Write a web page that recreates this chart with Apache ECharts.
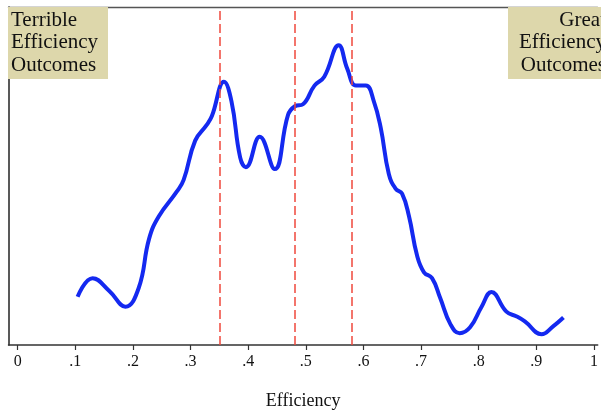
<!DOCTYPE html>
<html>
<head>
<meta charset="utf-8">
<script src="https://cdn.jsdelivr.net/npm/echarts@6/dist/echarts.min.js"></script>
<style>
  html, body { margin: 0; padding: 0; background: #fff; }
  #chart { width: 601px; height: 415px; }
</style>
</head>
<body>
<div id="chart"></div>
<script>
// kernel density of efficiency
const efficiency = [0.104, 0.130, 0.159, 0.187, 0.210, 0.228, 0.245, 0.276, 0.288, 0.308,
  0.328, 0.337, 0.358, 0.371, 0.386, 0.396, 0.420, 0.446, 0.469, 0.481,
  0.495, 0.515, 0.532, 0.557, 0.572, 0.587, 0.604, 0.618, 0.630, 0.644,
  0.656, 0.667, 0.679, 0.693, 0.705, 0.719, 0.733, 0.751, 0.767, 0.785,
  0.805, 0.822, 0.848, 0.866, 0.880, 0.909, 0.929, 0.947];
const density = [0.49, 0.68, 0.55, 0.39, 0.58, 1.08, 1.31, 1.56, 1.68, 2.08,
  2.24, 2.33, 2.68, 2.48, 1.91, 1.81, 2.12, 1.79, 2.34, 2.43,
  2.45, 2.64, 2.73, 3.05, 2.81, 2.64, 2.64, 2.48, 2.21, 1.74,
  1.59, 1.54, 1.31, 0.91, 0.74, 0.68, 0.48, 0.21, 0.12, 0.18,
  0.39, 0.54, 0.34, 0.29, 0.24, 0.11, 0.19, 0.28];
// dashed reference lines
const refLines = [0.352, 0.478, 0.583];
const xTicks = [0, 0.1, 0.2, 0.3, 0.4, 0.5, 0.6, 0.7, 0.8, 0.9, 1];
const xTickLabels = ['0', '.1', '.2', '.3', '.4', '.5', '.6', '.7', '.8', '.9', '1'];
const leftNote = 'Terrible\nEfficiency\nOutcomes';
const rightNote = 'Great\nEfficiency\nOutcomes';

const serif = '"Liberation Serif", "DejaVu Serif", serif';
const chart = echarts.init(document.getElementById('chart'));

chart.setOption({
  animation: false,
  grid: { left: 8.5, right: 0, top: 7, bottom: 64 },
  xAxis: [{
    type: 'value',
    min: -0.0159,
    max: 1.0064,
    name: 'Efficiency',
    nameLocation: 'middle',
    nameGap: 47,
    nameTextStyle: { fontFamily: serif, fontSize: 18, color: '#111' },
    splitLine: { show: false },
    axisLine: { onZero: false, lineStyle: { color: '#333', width: 1.5 } },
    axisTick: { customValues: xTicks, length: 5, lineStyle: { color: '#333', width: 1.2 } },
    axisLabel: {
      customValues: xTicks,
      margin: 9,
      fontFamily: serif,
      fontSize: 16,
      color: '#111',
      formatter: v => xTickLabels[xTicks.indexOf(v)]
    }
  }, {
    // top frame line only
    type: 'value',
    position: 'top',
    min: -0.0159,
    max: 1.0064,
    splitLine: { show: false },
    axisLine: { onZero: false, lineStyle: { color: '#555', width: 1.3 } },
    axisTick: { show: false },
    axisLabel: { show: false }
  }],
  yAxis: {
    type: 'value',
    min: 0,
    max: 3.44,
    axisLine: { show: true, onZero: false, lineStyle: { color: '#222', width: 1.5 } },
    axisTick: { show: false },
    axisLabel: { show: false },
    splitLine: { show: false }
  },
  series: [{
    type: 'line',
    data: efficiency.map((x, i) => [x, density[i]]),
    smooth: 0.45,
    showSymbol: false,
    lineStyle: { color: '#1429f0', width: 4 },
    markLine: {
      silent: true,
      symbol: 'none',
      label: { show: false },
      lineStyle: { color: '#f0483c', width: 1.5, type: [9, 4] },
      data: refLines.map(v => ({ xAxis: v }))
    },
    z: 3
  }],
  graphic: [
    { type: 'rect', shape: { x: 8, y: 7, width: 100, height: 72 }, style: { fill: '#ddd7ab' }, z: 100 },
    { type: 'text', x: 11, y: 9, z: 101,
      style: { text: leftNote, font: '21px ' + serif, lineHeight: 22.5, fill: '#111' } },
    { type: 'rect', shape: { x: 508, y: 7, width: 100, height: 72 }, style: { fill: '#ddd7ab' }, z: 100 },
    { type: 'text', x: 606, y: 9, z: 101,
      style: { text: rightNote, font: '21px ' + serif, lineHeight: 22.5, fill: '#111', align: 'right' } }
  ]
});
</script>
</body>
</html>
